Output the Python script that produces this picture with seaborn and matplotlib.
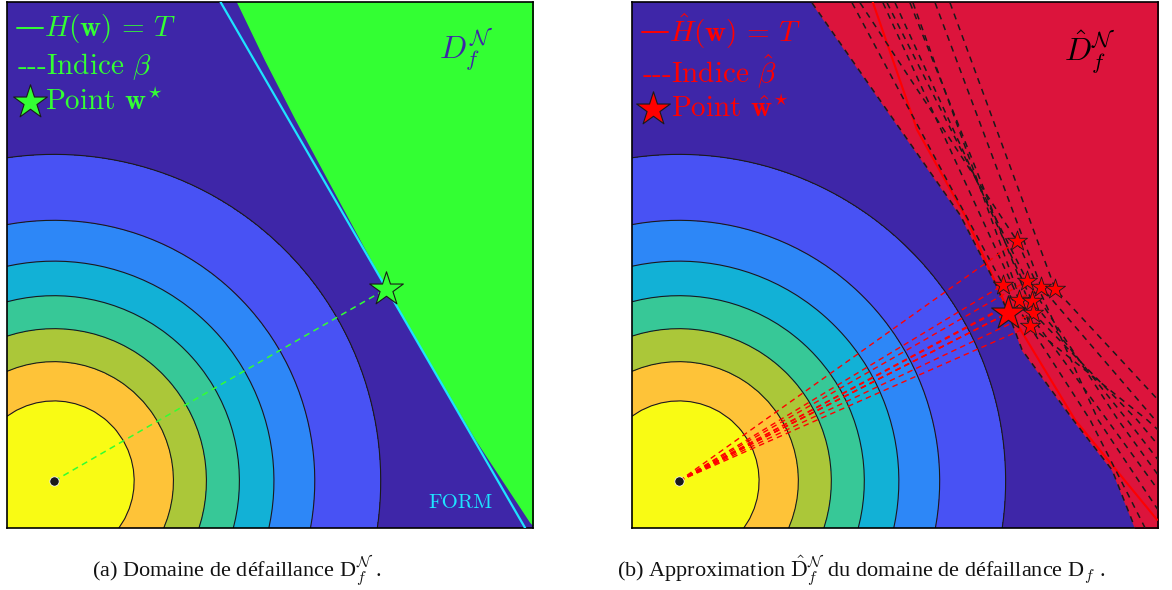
import numpy as np
import pandas as pd
import matplotlib
matplotlib.use("Agg")
import matplotlib.pyplot as plt
import seaborn as sns

# rayons des contours de la densite normale standard
ring_radii = [0.51, 0.76, 0.97, 1.18, 1.40, 1.66, 2.08]

# (a) domaine de defaillance exact
fail_u1 = [1.15, 1.166, 1.344, 1.541, 1.815, 2.121, 2.382, 2.688, 3.032, 3.15]
fail_u2 = [3.10, 3.051, 2.682, 2.299, 1.790, 1.223, 0.771, 0.261, -0.261, -0.376]
form_u1 = [1.06, 3.00]
form_u2 = [3.05, -0.30]
w_star = [2.115, 1.223]

# (b) approximation
approx_u1 = [0.84, 0.847, 1.790, 2.013, 2.096, 2.185, 2.510, 2.758, 2.904, 2.91]
approx_u2 = [3.10, 3.045, 1.694, 1.261, 1.070, 0.834, 0.389, 0.070, -0.299, -0.32]
h_hat_u1 = [1.229, 1.516, 1.822, 2.083, 2.522, 3.045]
h_hat_u2 = [3.064, 2.236, 1.688, 1.115, 0.389, -0.248]
big_star = [2.096, 1.070]
stars_u1 = [2.153, 2.064, 2.217, 2.306, 2.395, 2.166, 2.248, 2.255, 2.236]
stars_u2 = [1.529, 1.248, 1.274, 1.236, 1.223, 1.153, 1.146, 1.070, 0.987]
curves_u1 = [
    [0.847, 1.790, 2.013, 2.096, 2.185, 2.510, 2.758, 2.904],
    [1.102, 2.064, 2.618, 2.968],
    [1.153, 2.153, 2.669, 3.051],
    [1.299, 2.166, 2.726, 3.051],
    [1.325, 2.217, 2.796, 3.051],
    [1.376, 2.248, 2.854, 3.051],
    [1.471, 2.255, 2.917, 3.051],
    [1.490, 2.236, 2.981, 3.051],
    [1.631, 2.306, 3.032],
    [1.726, 2.395, 3.051],
]
curves_u2 = [
    [3.045, 1.694, 1.261, 1.070, 0.834, 0.389, 0.070, -0.299],
    [3.045, 1.248, 0.389, -0.299],
    [3.045, 1.529, 0.389, -0.185],
    [3.045, 1.153, 0.389, -0.057],
    [3.045, 1.274, 0.389, 0.038],
    [3.045, 1.146, 0.389, 0.134],
    [3.045, 1.070, 0.389, 0.229],
    [3.045, 0.987, 0.389, 0.325],
    [3.045, 1.236, 0.389],
    [3.045, 1.223, 0.516],
]

# couleurs parula (centre -> exterieur)
parula = ["#f9fb14", "#fec338", "#abc739", "#37c897", "#12b1d6",
          "#2d87f7", "#4852f4", "#3e26a8"]
green = "#33ff33"
crimson = "#dc143c"
lo, hi = -0.30, 3.05

sns.set_theme(style="white")
plt.rcParams["mathtext.fontset"] = "cm"
leg_font = ["cmr10", "DejaVu Serif"]

fig = plt.figure(figsize=(11.72, 5.90), dpi=100)
ax_a = fig.add_axes([0.006, 0.105, 0.4488, 0.8915])
ax_b = fig.add_axes([0.5392, 0.105, 0.4488, 0.8915])

g = np.linspace(lo, hi, 55)
U1, U2 = np.meshgrid(g, g)
R = np.hypot(U1, U2)
levels = [0] + ring_radii + [10]

for ax in (ax_a, ax_b):
    ax.contourf(U1, U2, R, levels=levels, colors=parula, zorder=0)
    ax.contour(U1, U2, R, levels=ring_radii, colors="k", linewidths=0.8, zorder=1)
    ax.set_xlim(lo, hi)
    ax.set_ylim(lo, hi)
    ax.set_xticks([])
    ax.set_yticks([])
    for s in ax.spines.values():
        s.set_color("black")
        s.set_linewidth(1.2)


def legend_block(ax, color, y_line, lines, star_xy):
    # petit trait plein devant la premiere entree
    ax.plot([0.019, 0.068], [y_line, y_line], transform=ax.transAxes,
            color=color, lw=1.4, clip_on=False, zorder=9)
    for x, y, s in lines:
        ax.text(x, y, s, transform=ax.transAxes, color=color, fontsize=21,
                family=leg_font, va="baseline", zorder=9)
    ax.scatter([star_xy[0]], [star_xy[1]], transform=ax.transAxes, marker="*",
               s=650, color=color, edgecolor="k", linewidth=0.8, zorder=9,
               clip_on=False)


# ---- (a)
ax_a.fill_betweenx(fail_u2, fail_u1, 4, color=green, zorder=2)
ax_a.plot(form_u1, form_u2, color="#1ee3ff", lw=1.6, zorder=3)
ax_a.plot([0, w_star[0]], [0, w_star[1]], color=green, ls=(0, (4, 3)), lw=1.1, zorder=3)
sns.scatterplot(x=[0], y=[0], ax=ax_a, color="k", s=45, zorder=4, legend=False)
sns.scatterplot(x=[w_star[0]], y=[w_star[1]], ax=ax_a, marker="*", s=650,
                color=green, edgecolor="k", linewidth=0.8, zorder=5, legend=False)

legend_block(ax_a, green, 0.951, [
    (0.070, 0.935, r"$H(\mathbf{w})\,=\,T$"),
    (0.019, 0.863, r"---Indice $\beta$"),
    (0.072, 0.795, r"Point $\mathbf{w}^{\star}$"),
], (0.044, 0.81))
ax_a.text(0.873, 0.909, r"$D_f^{\mathcal{N}}$", transform=ax_a.transAxes,
          color="#3e26a8", fontsize=23, ha="center", va="center")
ax_a.text(0.863, 0.0475, "FORM", transform=ax_a.transAxes, color="#1ee3ff",
          fontsize=15, family=leg_font, ha="center", va="center")

# ---- (b)
ax_b.fill_betweenx(approx_u2, approx_u1, 4, color=crimson, zorder=2)
ax_b.plot(h_hat_u1, h_hat_u2, color="red", lw=1.5, zorder=3)
rows = []
for k, (cu1, cu2) in enumerate(zip(curves_u1, curves_u2)):
    for a, b in zip(cu1, cu2):
        rows.append({"u1": a, "u2": b, "curve": k})
curves = pd.DataFrame(rows)
sns.lineplot(data=curves, x="u1", y="u2", units="curve", estimator=None, sort=False,
             color="k", lw=1.1, ax=ax_b, zorder=4)
for line in ax_b.get_lines()[-len(curves_u1):]:
    line.set_linestyle((0, (4, 3.5)))

for a, b in zip(stars_u1 + [big_star[0]], stars_u2 + [big_star[1]]):
    ax_b.plot([0, a], [0, b], color="red", ls=(0, (4, 3)), lw=1.0, zorder=5)
sns.scatterplot(x=[0], y=[0], ax=ax_b, color="k", s=45, zorder=6, legend=False)
sns.scatterplot(x=stars_u1, y=stars_u2, ax=ax_b, marker="*", s=230, color="red",
                edgecolor="k", linewidth=0.6, zorder=7, legend=False)
sns.scatterplot(x=[big_star[0]], y=[big_star[1]], ax=ax_b, marker="*", s=650,
                color="red", edgecolor="k", linewidth=0.8, zorder=8, legend=False)

legend_block(ax_b, "red", 0.943, [
    (0.070, 0.924, r"$\hat{H}(\mathbf{w})\,=\,T$"),
    (0.019, 0.848, r"---Indice $\hat{\beta}$"),
    (0.075, 0.781, r"Point $\hat{\mathbf{w}}^{\star}$"),
], (0.04, 0.797))
ax_b.text(0.871, 0.905, r"$\hat{D}_f^{\mathcal{N}}$", transform=ax_b.transAxes,
          color="black", fontsize=23, ha="center", va="center")

# legendes des sous-figures
cap_font = ["Liberation Serif", "DejaVu Serif"]
fig.text(0.202, 0.022, r"(a) Domaine de défaillance D$_f^{\mathcal{N}}$ .",
         ha="center", va="baseline", fontsize=16, family=cap_font, color="#111111")
fig.text(0.735, 0.022,
         r"(b) Approximation $\hat{\mathrm{D}}_f^{\mathcal{N}}$ du domaine de défaillance D$_f$ .",
         ha="center", va="baseline", fontsize=16, family=cap_font, color="#111111")

fig.savefig("out.png", dpi=100)
